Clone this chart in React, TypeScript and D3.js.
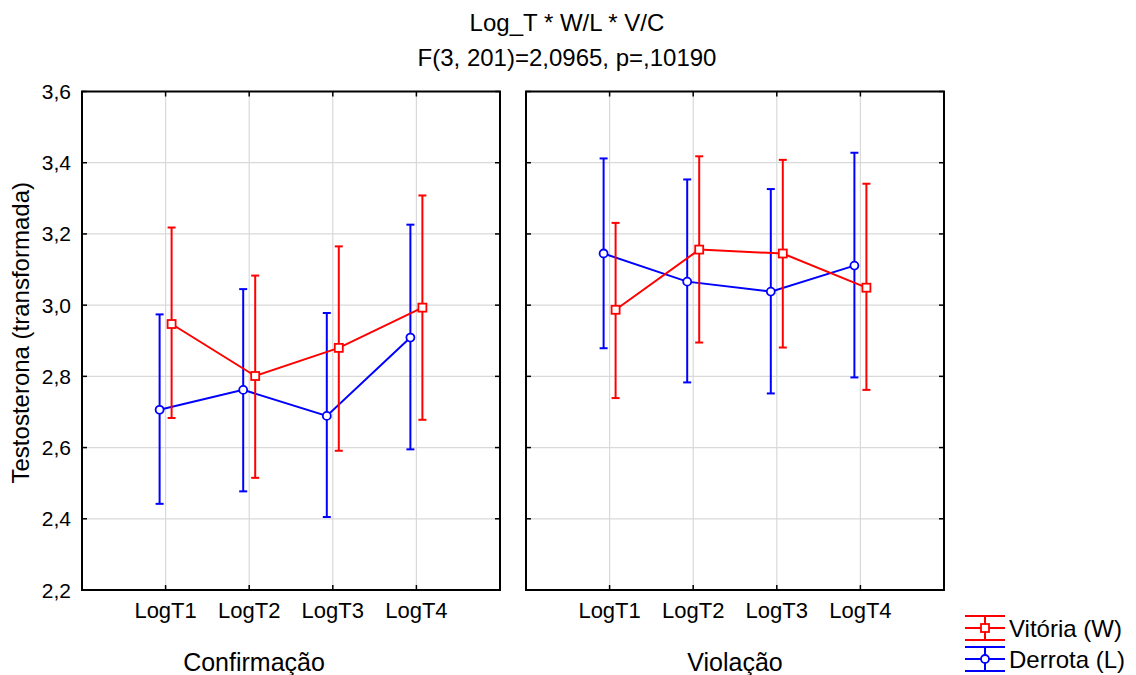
import React from "react";
import * as d3 from "d3";

const categories = ["LogT1", "LogT2", "LogT3", "LogT4"];
const panelLabels = ["Confirmação", "Violação"];
const yTicks = [2.2, 2.4, 2.6, 2.8, 3.0, 3.2, 3.4, 3.6];

const vitoriaConfMean = [2.947, 2.801, 2.88, 2.993];
const vitoriaConfHigh = [3.218, 3.083, 3.165, 3.308];
const vitoriaConfLow = [2.683, 2.515, 2.591, 2.678];
const derrotaConfMean = [2.706, 2.762, 2.689, 2.909];
const derrotaConfHigh = [2.974, 3.045, 2.978, 3.226];
const derrotaConfLow = [2.442, 2.477, 2.405, 2.595];

const vitoriaViolMean = [2.987, 3.156, 3.145, 3.049];
const vitoriaViolHigh = [3.231, 3.418, 3.408, 3.341];
const vitoriaViolLow = [2.739, 2.895, 2.881, 2.762];
const derrotaViolMean = [3.145, 3.066, 3.038, 3.111];
const derrotaViolHigh = [3.412, 3.353, 3.326, 3.428];
const derrotaViolLow = [2.879, 2.783, 2.752, 2.797];

const seriesNames = ["Vitória (W)", "Derrota (L)"];
const RED = "#ff0000";
const BLUE = "#0000ff";
const FONT = "'Liberation Sans', Arial, sans-serif";

const W = 1136;
const H = 675;
const TOP = 91.5;
const BOTTOM = 590;
const panelX = [
  [82, 500],
  [526, 944],
];

type Series = { mean: number[]; hi: number[]; lo: number[]; color: string; marker: "square" | "circle"; dx: number };

const panelsData: Series[][] = [
  [
    { mean: derrotaConfMean, hi: derrotaConfHigh, lo: derrotaConfLow, color: BLUE, marker: "circle", dx: -6 },
    { mean: vitoriaConfMean, hi: vitoriaConfHigh, lo: vitoriaConfLow, color: RED, marker: "square", dx: 6 },
  ],
  [
    { mean: derrotaViolMean, hi: derrotaViolHigh, lo: derrotaViolLow, color: BLUE, marker: "circle", dx: -6 },
    { mean: vitoriaViolMean, hi: vitoriaViolHigh, lo: vitoriaViolLow, color: RED, marker: "square", dx: 6 },
  ],
];

const y = d3.scaleLinear().domain([2.2, 3.6]).range([BOTTOM, TOP]);
const fmt = (v: number) => d3.format(".1f")(v).replace(".", ",");

function Marker({ type, cx, cy, color }: { type: string; cx: number; cy: number; color: string }) {
  if (type === "square")
    return <rect x={cx - 4} y={cy - 4} width={8} height={8} fill="white" stroke={color} strokeWidth={1.8} />;
  return <circle cx={cx} cy={cy} r={4} fill="white" stroke={color} strokeWidth={1.8} />;
}

function Panel({ idx }: { idx: number }) {
  const [x0, x1] = panelX[idx];
  const x = d3.scalePoint<string>().domain(categories).range([x0, x1]).padding(1);
  const series = panelsData[idx];
  return (
    <g>
      {yTicks.slice(1, -1).map((t) => (
        <line key={"gy" + t} x1={x0} x2={x1} y1={y(t)} y2={y(t)} stroke="#d9d9d9" strokeWidth={1.2} />
      ))}
      {categories.map((c) => (
        <line key={"gx" + c} x1={x(c)} x2={x(c)} y1={TOP} y2={BOTTOM} stroke="#d9d9d9" strokeWidth={1.2} />
      ))}
      {series.map((s, si) => (
        <g key={si}>
          <path
            d={
              d3
                .line<number>()
                .x((_, i) => (x(categories[i]) as number) + s.dx)
                .y((d) => y(d))(s.mean) || ""
            }
            fill="none"
            stroke={s.color}
            strokeWidth={2}
          />
          {s.mean.map((m, i) => {
            const cx = (x(categories[i]) as number) + s.dx;
            return (
              <g key={i}>
                <line x1={cx} x2={cx} y1={y(s.hi[i])} y2={y(s.lo[i])} stroke={s.color} strokeWidth={2} />
                <line x1={cx - 4} x2={cx + 4} y1={y(s.hi[i])} y2={y(s.hi[i])} stroke={s.color} strokeWidth={2} />
                <line x1={cx - 4} x2={cx + 4} y1={y(s.lo[i])} y2={y(s.lo[i])} stroke={s.color} strokeWidth={2} />
                <Marker type={s.marker} cx={cx} cy={y(m)} color={s.color} />
              </g>
            );
          })}
        </g>
      ))}
      {categories.map((c) => (
        <g key={"t" + c}>
          <line x1={x(c)} x2={x(c)} y1={TOP} y2={TOP + 5} stroke="black" strokeWidth={1.5} />
          <line x1={x(c)} x2={x(c)} y1={BOTTOM} y2={BOTTOM - 5} stroke="black" strokeWidth={1.5} />
        </g>
      ))}
      {yTicks.map((t) => (
        <g key={"ty" + t}>
          <line x1={x0} x2={x0 + 5} y1={y(t)} y2={y(t)} stroke="black" strokeWidth={1.5} />
          <line x1={x1} x2={x1 - 5} y1={y(t)} y2={y(t)} stroke="black" strokeWidth={1.5} />
        </g>
      ))}
      <rect x={x0} y={TOP} width={x1 - x0} height={BOTTOM - TOP} fill="none" stroke="black" strokeWidth={2} />
      {categories.map((c) => (
        <text key={"l" + c} x={x(c)} y={618} textAnchor="middle" fontSize={22} fontFamily={FONT} fill="#000">
          {c}
        </text>
      ))}
    </g>
  );
}

export default function App() {
  return (
    <svg width={W} height={H} style={{ position: "absolute", left: 0, top: 0, background: "white" }}>
      <rect width={W} height={H} fill="white" />
      <text x={567} y={31} textAnchor="middle" fontSize={24} fontFamily={FONT}>
        Log_T * W/L * V/C
      </text>
      <text x={567} y={66} textAnchor="middle" fontSize={24} fontFamily={FONT}>
        F(3, 201)=2,0965, p=,10190
      </text>
      {yTicks.map((t) => (
        <text key={t} x={71} y={y(t) + 7.5} textAnchor="end" fontSize={21} fontFamily={FONT}>
          {fmt(t)}
        </text>
      ))}
      <text
        transform={`translate(29,${(TOP + BOTTOM) / 2 - 8}) rotate(-90)`}
        textAnchor="middle"
        fontSize={24}
        fontFamily={FONT}
      >
        Testosterona (transformada)
      </text>
      <Panel idx={0} />
      <Panel idx={1} />
      <text x={254} y={671} textAnchor="middle" fontSize={25} fontFamily={FONT}>
        {panelLabels[0]}
      </text>
      <text x={735} y={671} textAnchor="middle" fontSize={25} fontFamily={FONT}>
        {panelLabels[1]}
      </text>
      {[0, 1].map((i) => {
        const color = i === 0 ? RED : BLUE;
        const cy = i === 0 ? 628 : 659;
        return (
          <g key={i}>
            <line x1={965} x2={1005} y1={cy - 12} y2={cy - 12} stroke={color} strokeWidth={2} />
            <line x1={965} x2={1005} y1={cy} y2={cy} stroke={color} strokeWidth={2} />
            <line x1={965} x2={1005} y1={cy + 12} y2={cy + 12} stroke={color} strokeWidth={2} />
            <line x1={985} x2={985} y1={cy - 12} y2={cy + 12} stroke={color} strokeWidth={2} />
            <Marker type={i === 0 ? "square" : "circle"} cx={985} cy={cy} color={color} />
            <text x={1009} y={cy + 9} fontSize={24} fontFamily={FONT}>
              {seriesNames[i]}
            </text>
          </g>
        );
      })}
    </svg>
  );
}
